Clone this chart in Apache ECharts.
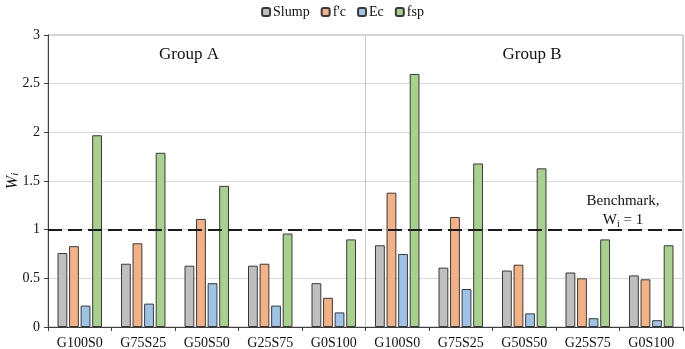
<!DOCTYPE html>
<html>
<head>
<meta charset="utf-8">
<script src="https://cdn.jsdelivr.net/npm/echarts@6/dist/echarts.min.js"></script>
<style>html,body{margin:0;padding:0;background:#fff}#c{width:685px;height:349px}</style>
</head>
<body>
<div id="c"></div>
<script>
const categories = ['G100S0','G75S25','G50S50','G25S75','G0S100','G100S0','G75S25','G50S50','G25S75','G0S100'];
const slump = [0.76, 0.65, 0.63, 0.63, 0.45, 0.84, 0.61, 0.58, 0.56, 0.53];
const fc    = [0.83, 0.86, 1.11, 0.65, 0.30, 1.38, 1.13, 0.64, 0.50, 0.49];
const ec    = [0.22, 0.24, 0.45, 0.22, 0.15, 0.75, 0.39, 0.14, 0.09, 0.07];
const fsp   = [1.97, 1.79, 1.45, 0.96, 0.90, 2.60, 1.68, 1.63, 0.90, 0.84];
const benchmark = 1;
const yTicks = [0, 0.5, 1, 1.5, 2, 2.5, 3];
const groupSize = 5;

const FONT = '"Liberation Serif", "Times New Roman", serif';
const chart = echarts.init(document.getElementById('c'), null, {renderer: 'canvas'});

function mkSeries(name, data, color) {
  return {
    name: name, type: 'bar', data: data,
    barWidth: 9.8, barGap: '18%',
    itemStyle: {color: color, borderColor: '#3a3a3a', borderWidth: 1},
    emphasis: {disabled: true},
    animation: false
  };
}

const series = [
  mkSeries('Slump', slump, '#bfbfbf'),
  mkSeries("f'c", fc, '#f4b183'),
  mkSeries('Ec', ec, '#9dc3e6'),
  mkSeries('fsp', fsp, '#a9d18e')
];
series[0].markLine = {
  silent: true, symbol: 'none', animation: false,
  label: {show: false},
  lineStyle: {color: '#1a1a1a', width: 2, type: [14, 6]},
  data: [{yAxis: benchmark}]
};

chart.setOption({
  animation: false,
  textStyle: {fontFamily: FONT},
  legend: {
    top: 0, left: 'center',
    itemWidth: 8, itemHeight: 8, itemGap: 11,
    textStyle: {fontFamily: FONT, fontSize: 14, color: '#111', padding: [0,0,0,-2]},
    data: ['Slump', "f'c", 'Ec', 'fsp']
  },
  grid: {left: 48, right: 2, top: 35, bottom: 22, containLabel: false, outerBoundsMode: 'none',
         show: true, borderColor: '#a6a6a6', borderWidth: 1},
  xAxis: [{
    type: 'category', data: categories,
    axisLine: {lineStyle: {color: '#404040', width: 1}},
    axisTick: {show: true, length: 4, lineStyle: {color: '#404040'}},
    axisLabel: {fontFamily: FONT, fontSize: 14, color: '#111', margin: 9},
    splitLine: {show: false}
  }, {
    type: 'value', position: 'bottom', min: 0, max: categories.length, interval: groupSize,
    axisLine: {show: false}, axisTick: {show: false}, axisLabel: {show: false},
    splitLine: {show: true, lineStyle: {color: '#c8c8c8', width: 1}}
  }],
  yAxis: {
    type: 'value', min: yTicks[0], max: yTicks[yTicks.length - 1], interval: 0.5,
    name: '{w|W}{s|i}', nameLocation: 'middle', nameGap: 27, nameRotate: 90, nameMoveOverlap: false,
    nameTextStyle: {rich: {
      w: {fontFamily: FONT, fontSize: 16, fontStyle: 'italic', color: '#111'},
      s: {fontFamily: FONT, fontSize: 11, fontStyle: 'italic', color: '#111', verticalAlign: 'bottom', padding: [6,0,0,0]}
    }},
    axisLine: {show: true, lineStyle: {color: '#404040', width: 1}},
    axisTick: {show: true, length: 4, lineStyle: {color: '#404040'}},
    axisLabel: {fontFamily: FONT, fontSize: 14, color: '#111', margin: 8},
    splitLine: {show: true, lineStyle: {color: '#d9d9d9', width: 1}}
  },
  graphic: [
    {type: 'text', x: 189, y: 55, style: {text: 'Group A', font: '17px ' + FONT, fill: '#111', align: 'center', verticalAlign: 'middle'}},
    {type: 'text', x: 532, y: 55, style: {text: 'Group B', font: '17px ' + FONT, fill: '#111', align: 'center', verticalAlign: 'middle'}},
    {type: 'text', x: 623, y: 201, style: {text: 'Benchmark,', font: '15px ' + FONT, fill: '#111', align: 'center', verticalAlign: 'middle'}},
    {type: 'text', x: 623, y: 220, style: {
      text: '{a|W}{b|i}{a| = 1}', align: 'center', verticalAlign: 'middle',
      rich: {
        a: {fontFamily: FONT, fontSize: 15, fill: '#111'},
        b: {fontFamily: FONT, fontSize: 10, fill: '#111', padding: [8,0,0,0]}
      }
    }}
  ],
  series: series
});
</script>
</body>
</html>
